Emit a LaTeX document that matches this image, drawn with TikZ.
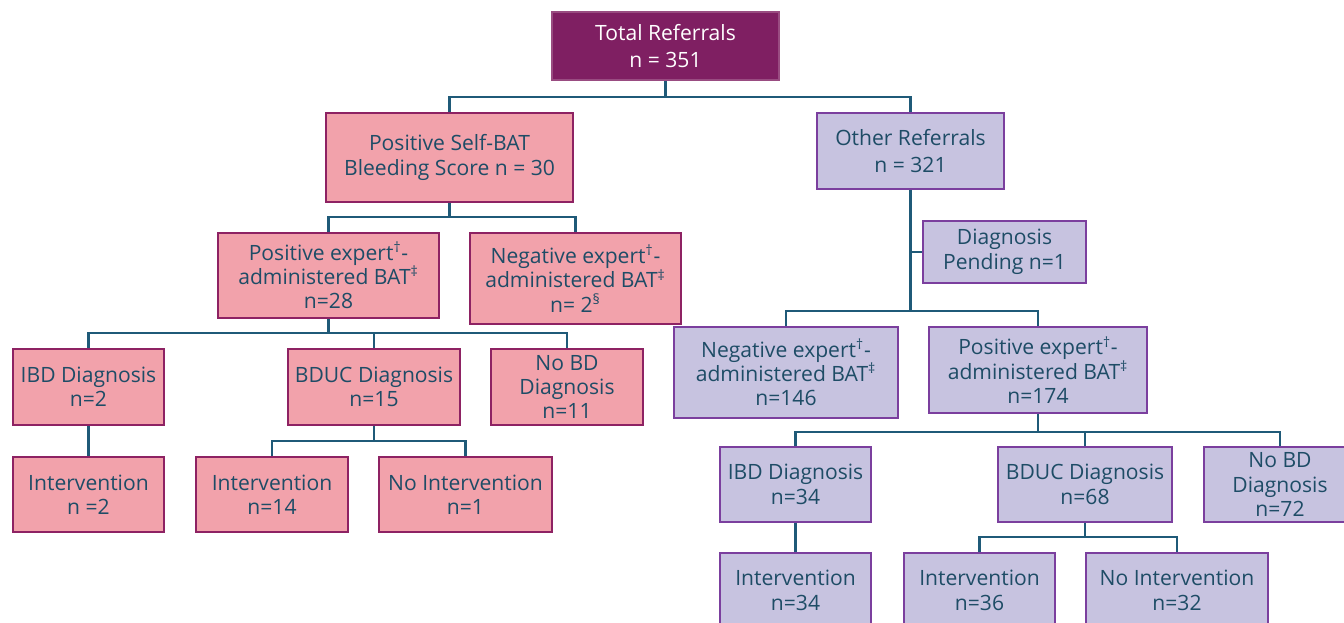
\documentclass[tikz,border=0pt]{standalone}
\usepackage{fontspec}
\setmainfont{Open Sans}
\definecolor{topfill}{HTML}{7F1F62}
\definecolor{pinkfill}{HTML}{F2A2AB}
\definecolor{pinkline}{HTML}{8E2263}
\definecolor{lilacfill}{HTML}{C7C3E0}
\definecolor{lilacline}{HTML}{7B3F9E}
\definecolor{textcol}{HTML}{1E4C66}
\definecolor{linkcol}{HTML}{1F5A78}

\begin{document}
\begin{tikzpicture}[x=0.2mm,y=-0.2mm]
        \tikzstyle{box}=[rectangle,draw,line width=1.1pt,inner sep=0pt,align=center,text=textcol,font=\fontsize{12}{13.9}\selectfont]
        \tikzstyle{widebox}=[font=\fontsize{12}{15.4}\selectfont]
        \tikzstyle{topbox}=[box,widebox,fill=topfill,draw=topfill!80!white,text=white]
        \tikzstyle{pinkbox}=[box,fill=pinkfill,draw=pinkline]
        \tikzstyle{lilacbox}=[box,fill=lilacfill,draw=lilacline]
        \tikzstyle{link}=[draw=linkcol,line width=1.4pt]
        \useasboundingbox (0,0) rectangle (1344,623);
        % top
        \node[topbox,minimum width=45.4mm,minimum height=13.6mm] (total) at (665.5,46) {Total Referrals\\n = 351};
        % self-BAT branch
        \node[pinkbox,minimum width=49.4mm,minimum height=17.8mm] (pself) at (449.5,157.5) {Positive Self-BAT\\Bleeding Score n = 30};
        \node[pinkbox,minimum width=44.2mm,minimum height=17mm] (pposexp) at (328.5,275.5) {Positive expert\textsuperscript{†}-\\administered BAT\textsuperscript{‡}\\n=28};
        \node[pinkbox,minimum width=42.2mm,minimum height=18.2mm] (pnegexp) at (575.5,278.5) {Negative expert\textsuperscript{†}-\\administered BAT\textsuperscript{‡}\\n= 2\textsuperscript{§}};
        \node[pinkbox,minimum width=30.2mm,minimum height=15.2mm] (pibd) at (88.5,387) {IBD Diagnosis\\n=2};
        \node[pinkbox,minimum width=34.4mm,minimum height=15.2mm] (pbduc) at (374,387) {BDUC Diagnosis\\n=15};
        \node[pinkbox,minimum width=30.4mm,minimum height=15.2mm] (pnobd) at (567,387) {No BD\\Diagnosis\\n=11};
        \node[pinkbox,minimum width=30.2mm,minimum height=15mm] (pibdint) at (88.5,494.5) {Intervention\\n =2};
        \node[pinkbox,minimum width=30.4mm,minimum height=15mm] (pbducint) at (272,494.5) {Intervention\\n=14};
        \node[pinkbox,minimum width=34.6mm,minimum height=15mm] (pbducno) at (465.5,494.5) {No Intervention\\n=1};
        % other referrals branch
        \node[lilacbox,widebox,minimum width=37.4mm,minimum height=15.2mm] (other) at (910.5,151) {Other Referrals\\n = 321};
        \node[lilacbox,minimum width=32.6mm,minimum height=12.4mm] (pending) at (1004.5,252) {Diagnosis\\Pending n=1};
        \node[lilacbox,minimum width=44.8mm,minimum height=18.2mm] (lnegexp) at (786,372.5) {Negative expert\textsuperscript{†}-\\administered BAT\textsuperscript{‡}\\n=146};
        \node[lilacbox,minimum width=43.6mm,minimum height=17.2mm] (lposexp) at (1038,370) {Positive expert\textsuperscript{†}-\\administered BAT\textsuperscript{‡}\\n=174};
        \node[lilacbox,minimum width=30.2mm,minimum height=15mm] (libd) at (795.5,484.5) {IBD Diagnosis\\n=34};
        \node[lilacbox,minimum width=34.8mm,minimum height=15mm] (lbduc) at (1085,484.5) {BDUC Diagnosis\\n=68};
        \node[lilacbox,minimum width=30.4mm,minimum height=15mm] (lnobd) at (1280,484.5) {No BD\\Diagnosis\\n=72};
        \node[lilacbox,minimum width=30.2mm,minimum height=15mm] (libdint) at (795.5,590.5) {Intervention\\n=34};
        \node[lilacbox,minimum width=30.2mm,minimum height=15mm] (lbducint) at (979.5,590.5) {Intervention\\n=36};
        \node[lilacbox,minimum width=36.4mm,minimum height=15mm] (lbducno) at (1177,590.5) {No Intervention\\n=32};
        % junctions
        \coordinate (j1) at (665.5,97);
        \coordinate (j2) at (449.5,217);
        \coordinate (j3) at (328.5,333);
        \coordinate (j4) at (374,441);
        \coordinate (j5) at (910.5,311);
        \coordinate (j6) at (1038,432);
        \coordinate (j7) at (1085,537);
        % connectors
        \draw[link] (total.south) -- (j1);
        \draw[link] (pself.north) |- (j1) -| (other.north);
        \draw[link] (pself.south) -- (j2);
        \draw[link] (pposexp.north) |- (j2) -| (pnegexp.north);
        \draw[link] (pposexp.south) -- (j3);
        \draw[link] (pibd.north) |- (j3) -| (pnobd.north);
        \draw[link] (pbduc.north) -- (pbduc.north |- j3);
        \draw[link] (pibd.south) -- (pibdint.north);
        \draw[link] (pbduc.south) -- (j4);
        \draw[link] (pbducint.north) |- (j4) -| (pbducno.north);
        \draw[link] (other.south) -- (j5);
        \draw[link] (other.south |- pending.west) -- (pending.west);
        \draw[link] (lnegexp.north) |- (j5) -| (lposexp.north);
        \draw[link] (lposexp.south) -- (j6);
        \draw[link] (libd.north) |- (j6) -| (lnobd.north);
        \draw[link] (lbduc.north) -- (lbduc.north |- j6);
        \draw[link] (libd.south) -- (libdint.north);
        \draw[link] (lbduc.south) -- (j7);
        \draw[link] (lbducint.north) |- (j7) -| (lbducno.north);
\end{tikzpicture}
\end{document}
